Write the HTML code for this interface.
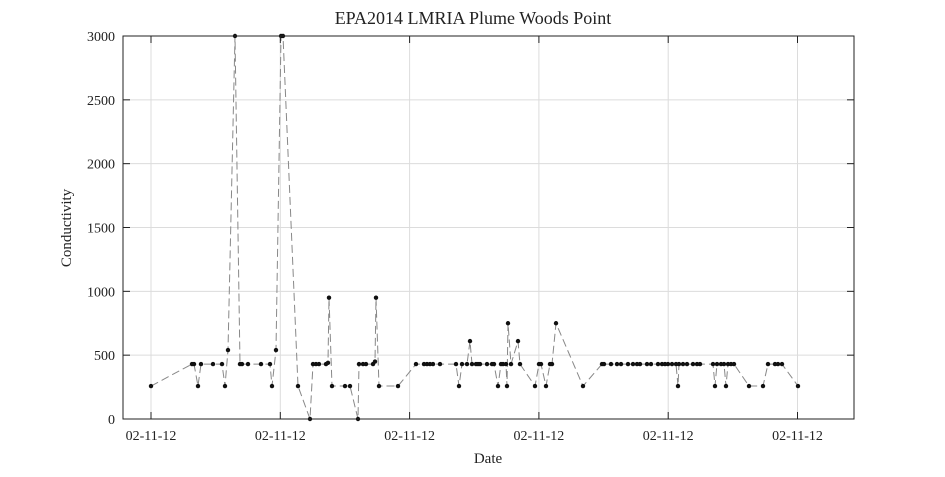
<!DOCTYPE html>
<html><head><meta charset="utf-8"><style>
body{margin:0;background:#fff}
svg text{font-family:"Liberation Serif",serif;fill:#222}
</style></head><body>
<svg id="c" width="945" height="472" xmlns="http://www.w3.org/2000/svg">
<rect width="945" height="472" fill="#fff"/>
<g id="grid"></g><g id="series"></g><g id="axes"></g>
<text x="473" y="24" text-anchor="middle" font-size="18">EPA2014 LMRIA Plume Woods Point</text>
<text x="488" y="463" text-anchor="middle" font-size="15">Date</text>
<text transform="translate(71,228) rotate(-90)" text-anchor="middle" font-size="15">Conductivity</text>
</svg>
<script>
const xTicks=[0,129.3,258.6,387.9,517.2,646.5];
const xTickLabels=["02-11-12","02-11-12","02-11-12","02-11-12","02-11-12","02-11-12"];
const yTicks=[0,500,1000,1500,2000,2500,3000];
const times=[0,41,43,47,50,62,71,74,77,84,
89,91,97,110,119,121,125,130,132,147,
159,162,165,168,175,177,178,181,194,199,
207,208,212,215,222,224,225,228,247,265,
273,276,279,282,289,305,308,311,316,319,
321,325,327,329,336,341,343,347,350,352,
355,356,357,360,367,369,384,388,390,395,
399,401,405,432,451,453,460,466,470,477,
482,486,489,496,500,507,511,514,517,521,
525,527,528,532,536,542,546,549,562,564,
566,570,573,575,577,580,583,598,612,617,
624,627,631,647];
const values=[258,430,430,258,430,430,430,258,540,3000,
430,430,430,430,430,258,540,3000,3000,258,
0,430,430,430,430,440,950,258,258,258,
0,430,430,430,430,450,950,258,258,430,
430,430,430,430,430,430,258,430,430,610,
430,430,430,430,430,430,430,258,430,430,
430,258,750,430,610,430,258,430,430,258,
430,430,750,258,430,430,430,430,430,430,
430,430,430,430,430,430,430,430,430,430,
430,258,430,430,430,430,430,430,430,258,
430,430,430,258,430,430,430,258,258,430,
430,430,430,258];
const L=123,R=854,T=36,B=419;
const xS=t=>151+t;
const yS=v=>B-(v/3000)*(B-T);
const NS="http://www.w3.org/2000/svg";
function mk(tag,attrs,parent){const e=document.createElementNS(NS,tag);for(const k in attrs)e.setAttribute(k,attrs[k]);parent.appendChild(e);return e;}
const grid=document.getElementById('grid'),axes=document.getElementById('axes'),ser=document.getElementById('series');
xTicks.forEach((t,i)=>{const x=xS(t);
 const g=mk('line',{x1:x,x2:x,y1:T,y2:B,stroke:'#dcdcdc','stroke-width':1},grid);
 
 
 mk('line',{x1:x,x2:x,y1:B,y2:B-7,stroke:'#222'},axes);
 mk('line',{x1:x,x2:x,y1:T,y2:T+7,stroke:'#222'},axes);
 const tx=mk('text',{x:x,y:B+21,'text-anchor':'middle','font-size':14},axes);tx.textContent=xTickLabels[i];
 
 
});
yTicks.forEach(v=>{const y=yS(v);
 if(v>0&&v<3000){const g=mk('line',{x1:L,x2:R,y1:y,y2:y,stroke:'#dcdcdc','stroke-width':1},grid);
 
 }
 mk('line',{x1:L,x2:L+7,y1:y,y2:y,stroke:'#222'},axes);
 mk('line',{x1:R,x2:R-7,y1:y,y2:y,stroke:'#222'},axes);
 const tx=mk('text',{x:L-8,y:y+5,'text-anchor':'end','font-size':14},axes);tx.textContent=v;
 
 
});
const box=mk('rect',{x:L,y:T,width:R-L,height:B-T,fill:'none',stroke:'#222','stroke-width':1},axes);


const pts=times.map((t,i)=>xS(t)+','+yS(values[i])).join(' ');
const pl=mk('polyline',{points:pts,fill:'none',stroke:'#888','stroke-width':1,'stroke-dasharray':'8,4'},ser);


times.forEach((t,i)=>{const c=mk('circle',{cx:xS(t),cy:yS(values[i]),r:2.2,fill:'#111'},ser);
 
 
});
</script>
</body></html>
